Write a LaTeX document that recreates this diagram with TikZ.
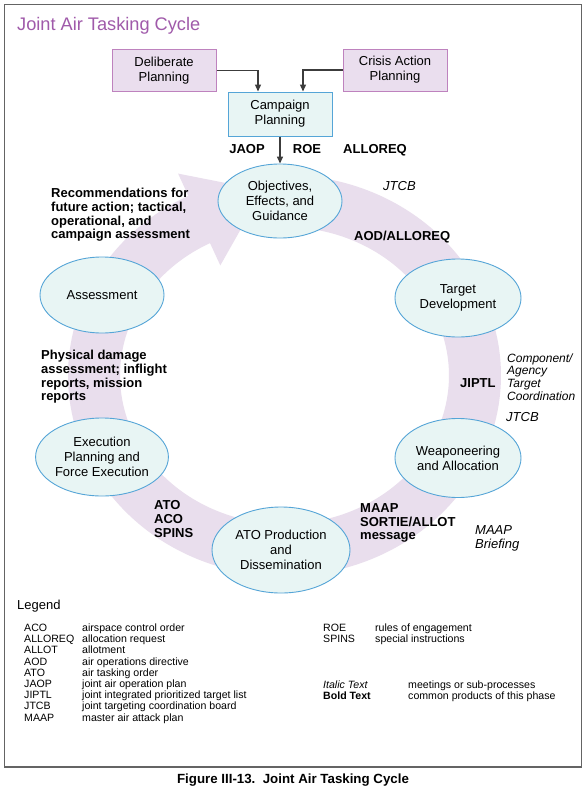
\documentclass[tikz,border=0pt]{standalone}
\usepackage{fontspec}
\setmainfont{Liberation Sans}
\usetikzlibrary{shapes.geometric,arrows.meta,calc}
\definecolor{titlepurple}{RGB}{160,90,170}
\definecolor{boxfill}{RGB}{234,222,238}
\definecolor{boxline}{RGB}{190,130,190}
\definecolor{bandc}{RGB}{233,222,237}
\definecolor{ellfill}{RGB}{232,245,244}
\definecolor{ellline}{RGB}{85,165,215}
\definecolor{arrowc}{RGB}{60,60,60}
\definecolor{framec}{RGB}{100,100,100}
\tikzset{
  lbl/.style={inner sep=0pt, font=\fontsize{13}{13.7}\selectfont\bfseries, align=left},
  itl/.style={inner sep=0pt, font=\fontsize{13}{12.7}\selectfont\itshape, align=left},
  ell/.style={ellipse, draw=ellline, fill=ellfill, line width=0.9pt, inner sep=0pt, align=center, font=\fontsize{13}{15}\selectfont},
  pbox/.style={rectangle, draw=boxline, fill=boxfill, line width=1pt, inner sep=0pt, align=center, minimum width=104pt, minimum height=42pt, font=\fontsize{13}{15}\selectfont},
  cbox/.style={rectangle, draw=ellline, fill=ellfill, line width=1pt, inner sep=0pt, align=center, minimum width=104pt, minimum height=44pt, font=\fontsize{13}{15}\selectfont},
  arr/.style={draw=arrowc, line width=1.3pt, -{Triangle[length=7pt,width=6pt]}},
  lg/.style={inner sep=0pt, anchor=base west, font=\fontsize{10.6}{11}\selectfont}
}
\begin{document}
\begin{tikzpicture}[x=1pt,y=-1pt]
\useasboundingbox (0,0) rectangle (588,795);
\fill[white] (0,0) rectangle (588,795);
\draw[framec, line width=1.5pt] (4.5,4.5) rectangle (581.5,767);

\node[anchor=base west, inner sep=0pt, text=titlepurple, font=\fontsize{18.2}{20}\selectfont] (title) at (17,30) {Joint Air Tasking Cycle};

% cycle band
\draw[bandc, line width=52pt] plot[domain=-93:246, samples=240] ({284.5+190.5*cos(\x)},{375.5+174.5*sin(\x)});
\fill[bandc] (178.1,173.6) -- (262.8,190.3) -- (220.3,265.4) -- cycle;

% boxes
\node[pbox] (delib) at (164,70.5) {Deliberate\\Planning};
\node[pbox] (crisis) at (395,70) {Crisis Action\\Planning};
\node[cbox] (camp) at (280,114) {Campaign\\Planning};

% ellipses
\node[ell, minimum width=124pt, minimum height=74pt] (obj) at (280,201) {Objectives,\\Effects, and\\Guidance};
\node[ell, minimum width=126pt, minimum height=78pt] (target) at (458,298) {Target\\Development};
\node[ell, minimum width=126pt, minimum height=79pt] (weap) at (458,458) {Weaponeering\\and Allocation};
\node[ell, minimum width=138pt, minimum height=86pt] (ato) at (281,550) {ATO Production\\and\\Dissemination};
\node[ell, minimum width=123pt, minimum height=78pt] (exec) at (102,457) {Execution\\Planning and\\Force Execution};
\node[ell, minimum width=124pt, minimum height=76pt] (assess) at (102,295) {Assessment};

% connectors
\draw[arr] (delib.east) -| ($(camp.north)+(-22,0)$);
\draw[arr] (crisis.west) -| ($(camp.north)+(23,0)$);
\draw[arr] (camp.south) -- (obj.north);

% labels
\node[lbl, anchor=base] (jaop) at (247,153.7) {JAOP};
\node[lbl, anchor=base] (roe) at (307,153.7) {ROE};
\node[lbl, anchor=base] (alloreq) at (375,153.7) {ALLOREQ};
\node[lbl, anchor=west] (recom) at (51,215) {Recommendations for\\future action; tactical,\\operational, and\\campaign assessment};
\node[lbl, anchor=west] (aod) at (354,237) {AOD/ALLOREQ};
\node[itl, anchor=west] (jtcb1) at (383,186) {JTCB};
\node[lbl, anchor=west] (phys) at (41,377) {Physical damage\\assessment; inflight\\reports, mission\\reports};
\node[lbl, anchor=west] (jiptl) at (460,383) {JIPTL};
\node[itl, anchor=west, font=\fontsize{12}{12.7}\selectfont\itshape] (comp) at (507,377) {Component/\\Agency\\Target\\Coordination};
\node[itl, anchor=west] (jtcb2) at (506,417) {JTCB};
\node[lbl, anchor=west] (atoaco) at (154,519) {ATO\\ACO\\SPINS};
\node[lbl, anchor=west] (maap) at (360,523) {MAAP\\SORTIE/ALLOT\\message};
\node[itl, anchor=west, font=\fontsize{13}{14}\selectfont\itshape] (brief) at (475,538) {MAAP\\Briefing};

% legend
\node[anchor=base west, inner sep=0pt, font=\fontsize{13}{15}\selectfont] (legend) at (17,609.5) {Legend};
\foreach \a/\d [count=\i] in {ACO/airspace control order, ALLOREQ/allocation request, ALLOT/allotment, AOD/air operations directive, ATO/air tasking order, JAOP/joint air operation plan, JIPTL/joint integrated prioritized target list, JTCB/joint targeting coordination board, MAAP/master air attack plan}{
  \node[lg] (la\i) at (24,{620.3+11.2*\i}) {\a};
  \node[lg] (ld\i) at (82,{620.3+11.2*\i}) {\d};
}
\node[lg] (ra1) at (323,631.5) {ROE};
\node[lg] (rd1) at (375,631.5) {rules of engagement};
\node[lg] (ra2) at (323,642.7) {SPINS};
\node[lg] (rd2) at (375,642.7) {special instructions};
\node[lg] (ra3) at (323,688.5) {\itshape Italic Text};
\node[lg] (rd3) at (408,688.5) {meetings or sub-processes};
\node[lg] (ra4) at (323,699.7) {\bfseries Bold Text};
\node[lg] (rd4) at (408,699.7) {common products of this phase};

% caption
\node[anchor=base, inner sep=0pt, font=\fontsize{13.3}{15}\selectfont\bfseries] (caption) at (293,783.5) {Figure III-13.\ \ Joint Air Tasking Cycle};
\end{tikzpicture}
\end{document}
